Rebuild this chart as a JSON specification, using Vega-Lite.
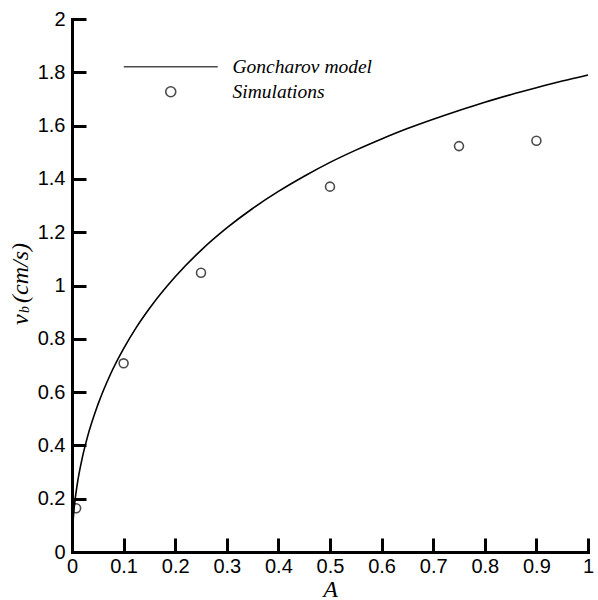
{
  "$schema": "https://vega.github.io/schema/vega-lite/v6.json",
  "width": 516,
  "height": 533,
  "autosize": {"type": "none"},
  "padding": {"left": 72, "top": 19, "right": 10, "bottom": 48},
  "background": "white",
  "config": {
    "view": {"stroke": null},
    "axis": {
      "grid": false,
      "domainColor": "black",
      "domainWidth": 3,
      "domainCap": "square",
      "tickColor": "black",
      "tickWidth": 3,
      "tickSize": -14,
      "labelFont": "Liberation Sans",
      "labelFontSize": 20,
      "labelColor": "black",
      "labelOverlap": false,
      "labelFlush": false,
      "format": "~g",
      "titleFont": "Liberation Serif",
      "titleFontStyle": "italic",
      "titleFontWeight": "normal",
      "titleFontSize": 24,
      "titleColor": "black"
    }
  },
  "layer": [
    {
      "data": {
        "values": [
          {"A": 0.001, "v": 0.080},
          {"A": 0.002, "v": 0.113},
          {"A": 0.005, "v": 0.179},
          {"A": 0.01, "v": 0.252},
          {"A": 0.02, "v": 0.354},
          {"A": 0.03, "v": 0.432},
          {"A": 0.05, "v": 0.552},
          {"A": 0.075, "v": 0.669},
          {"A": 0.1, "v": 0.763},
          {"A": 0.125, "v": 0.844},
          {"A": 0.15, "v": 0.914},
          {"A": 0.2, "v": 1.033},
          {"A": 0.25, "v": 1.132},
          {"A": 0.3, "v": 1.216},
          {"A": 0.35, "v": 1.289},
          {"A": 0.4, "v": 1.353},
          {"A": 0.45, "v": 1.410},
          {"A": 0.5, "v": 1.462},
          {"A": 0.55, "v": 1.508},
          {"A": 0.6, "v": 1.550},
          {"A": 0.65, "v": 1.589},
          {"A": 0.7, "v": 1.624},
          {"A": 0.75, "v": 1.657},
          {"A": 0.8, "v": 1.688},
          {"A": 0.85, "v": 1.716},
          {"A": 0.9, "v": 1.742},
          {"A": 0.95, "v": 1.767},
          {"A": 1.0, "v": 1.790}
        ]
      },
      "mark": {"type": "line", "color": "black", "strokeWidth": 1.6, "interpolate": "monotone"},
      "encoding": {
        "x": {
          "field": "A",
          "type": "quantitative",
          "scale": {"domain": [0, 1]},
          "axis": {
            "values": [0, 0.1, 0.2, 0.3, 0.4, 0.5, 0.6, 0.7, 0.8, 0.9, 1],
            "title": "A",
            "labelPadding": 18,
            "titlePadding": 1
          }
        },
        "y": {
          "field": "v",
          "type": "quantitative",
          "scale": {"domain": [0, 2]},
          "axis": {
            "values": [0, 0.2, 0.4, 0.6, 0.8, 1, 1.2, 1.4, 1.6, 1.8, 2],
            "title": null,
            "labelPadding": 21
          }
        }
      }
    },
    {
      "data": {
        "values": [
          {"A": 0.008, "v": 0.164, "series": "Simulations"},
          {"A": 0.1, "v": 0.708, "series": "Simulations"},
          {"A": 0.25, "v": 1.048, "series": "Simulations"},
          {"A": 0.5, "v": 1.371, "series": "Simulations"},
          {"A": 0.75, "v": 1.523, "series": "Simulations"},
          {"A": 0.9, "v": 1.543, "series": "Simulations"}
        ]
      },
      "mark": {"type": "point", "filled": false, "color": "black", "size": 80, "strokeWidth": 1.6},
      "encoding": {
        "x": {"field": "A", "type": "quantitative"},
        "y": {"field": "v", "type": "quantitative"},
        "shape": {
          "field": "series",
          "type": "nominal",
          "scale": {
            "domain": ["Goncharov model", "Simulations"],
            "range": ["M-9.4,0H9.4", "circle"]
          },
          "legend": {
            "orient": "none",
            "legendX": 89,
            "legendY": 38,
            "title": null,
            "padding": 0,
            "symbolSize": 100,
            "symbolStrokeWidth": 1.6,
            "symbolStrokeColor": "black",
            "symbolFillColor": "transparent",
            "labelFont": "Liberation Serif",
            "labelFontStyle": "italic",
            "labelFontSize": 19.5,
            "labelColor": "black",
            "labelOffset": 52,
            "rowPadding": 4
          }
        }
      }
    },
    {
      "data": {"values": [{}]},
      "mark": {"type": "text", "text": "v", "angle": 270, "align": "center", "baseline": "alphabetic", "font": "Liberation Serif", "fontStyle": "italic", "fontSize": 24, "color": "black"},
      "encoding": {
        "x": {"datum": -0.0862, "type": "quantitative"},
        "y": {"datum": 0.872, "type": "quantitative"}
      }
    },
    {
      "data": {"values": [{}]},
      "mark": {"type": "text", "text": "b", "angle": 270, "align": "center", "baseline": "alphabetic", "font": "Liberation Serif", "fontStyle": "italic", "fontSize": 14, "color": "black"},
      "encoding": {
        "x": {"datum": -0.0824, "type": "quantitative"},
        "y": {"datum": 0.91, "type": "quantitative"}
      }
    },
    {
      "data": {"values": [{}]},
      "mark": {"type": "text", "text": "(cm/s)", "angle": 270, "align": "center", "baseline": "alphabetic", "font": "Liberation Serif", "fontStyle": "italic", "fontSize": 24, "color": "black"},
      "encoding": {
        "x": {"datum": -0.0862, "type": "quantitative"},
        "y": {"datum": 1.047, "type": "quantitative"}
      }
    }
  ]
}
